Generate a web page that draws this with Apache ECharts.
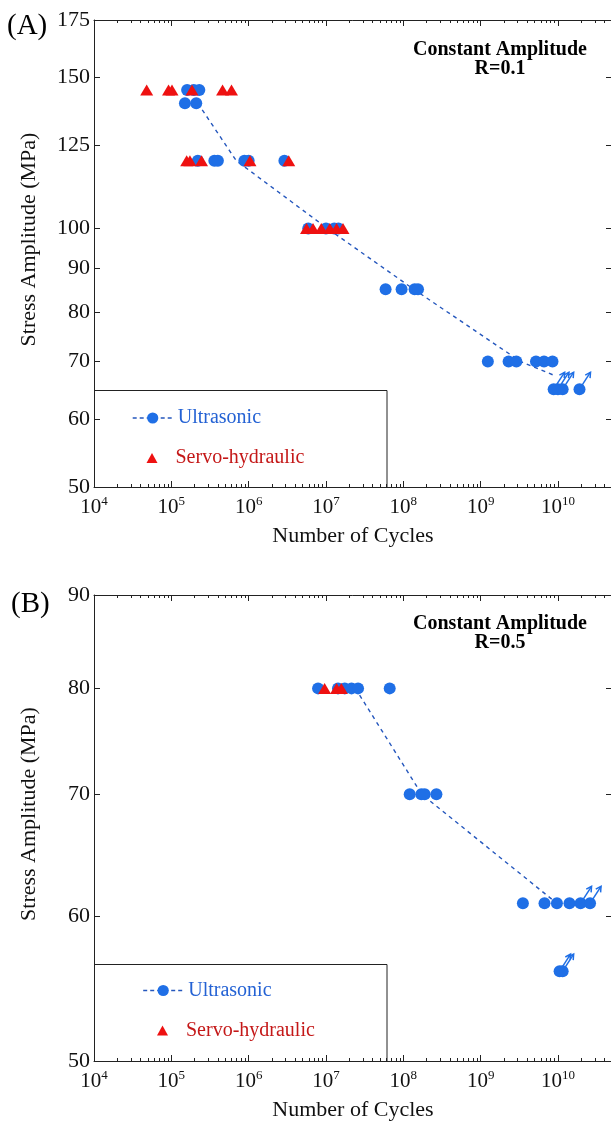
<!DOCTYPE html>
<html>
<head>
<meta charset="utf-8">
<script src="https://cdn.jsdelivr.net/npm/echarts@6/dist/echarts.min.js"></script>
<style>
  html, body { margin: 0; padding: 0; background: #ffffff; }
  #chart { width: 611px; height: 1123px; }
</style>
</head>
<body>
<div id="chart"></div>
<script>
// ---- S-N data: [cycles, stress amplitude (MPa)] ----
// Panel A: constant amplitude, R = 0.1
const ultrasonicA = [
  [1.6e5, 145], [1.95e5, 145], [2.3e5, 145],
  [1.5e5, 140], [2.1e5, 140],
  [2.2e5, 120], [3.6e5, 120], [4.0e5, 120], [8.8e5, 120], [1.0e6, 120], [2.9e6, 120],
  [5.9e6, 100], [1.0e7, 100], [1.28e7, 100], [1.45e7, 100],
  [5.9e7, 85], [9.5e7, 85], [1.4e8, 85], [1.55e8, 85],
  [1.24e9, 70], [2.3e9, 70], [2.9e9, 70], [5.2e9, 70], [6.6e9, 70], [8.5e9, 70]
];
const runoutsA = [[8.8e9, 65], [1.0e10, 65], [1.15e10, 65], [1.9e10, 65]];
const servoA = [
  [4.8e4, 145], [9.2e4, 145], [1.02e5, 145], [1.85e5, 145], [4.6e5, 145], [6.0e5, 145],
  [1.58e5, 120], [1.74e5, 120], [2.46e5, 120], [1.04e6, 120], [3.3e6, 120],
  [5.6e6, 100], [6.8e6, 100], [8.7e6, 100], [1.12e7, 100], [1.37e7, 100], [1.66e7, 100]
];
const trendA = [[2.2e5, 140], [6.9e5, 120], [1.05e7, 100], [1.36e8, 85], [3.3e9, 70], [9.5e9, 67.3]];

// Panel B: constant amplitude, R = 0.5
const ultrasonicB = [
  [7.9e6, 80], [1.43e7, 80], [1.75e7, 80], [2.14e7, 80], [2.6e7, 80], [6.67e7, 80],
  [1.21e8, 70], [1.71e8, 70], [1.89e8, 70], [2.68e8, 70],
  [3.52e9, 61], [6.7e9, 61], [9.7e9, 61], [1.41e10, 61]
];
const runoutsB = [[1.96e10, 61], [2.6e10, 61], [1.05e10, 56], [1.15e10, 56]];
const servoB = [[9.6e6, 80], [1.37e7, 80], [1.58e7, 80]];
const trendB = [[2.4e7, 80], [1.73e8, 70], [9.7e9, 61]];

// Axis tick values
const cycleDecades = [1e4, 1e5, 1e6, 1e7, 1e8, 1e9, 1e10];
const stressTicksA = [50, 60, 70, 80, 90, 100, 125, 150, 175];
const stressTicksB = [50, 60, 70, 80, 90];

// ---- styling ----
const FONT = '"Liberation Serif", "Times New Roman", serif';
const INK = '#222222';
const BLUE = '#1f6fe6';
const TREND_BLUE = '#2557bd';
const RED = '#ee1111';
const BLUE_TEXT = '#2462d4';
const RED_TEXT = '#c41818';

const cycleMinors = [];
for (let e = 4; e <= 10; e++) {
  for (let m = 2; m <= 9; m++) {
    const v = m * Math.pow(10, e);
    if (v <= 5e10) cycleMinors.push(v);
  }
}

function powerLabel(v) {
  return '{b|10}{s|' + Math.round(Math.log10(v)) + '}';
}

function cycleAxes(gridIndex) {
  const base = {
    type: 'log', logBase: 10, min: 1e4, max: 5e10, gridIndex: gridIndex,
    splitLine: { show: false }, nameMoveOverlap: false
  };
  const line = { show: true, lineStyle: { color: INK, width: 1 } };
  return [
    Object.assign({}, base, {
      position: 'bottom', axisLine: line,
      axisTick: { inside: true, length: 6, customValues: cycleDecades, lineStyle: { color: INK } },
      axisLabel: {
        customValues: cycleDecades, formatter: powerLabel, margin: 8,
        rich: {
          b: { fontFamily: FONT, fontSize: 21, color: '#111', lineHeight: 24 },
          s: { fontFamily: FONT, fontSize: 13, color: '#111', verticalAlign: 'top', lineHeight: 14 }
        }
      },
      name: 'Number of Cycles', nameLocation: 'middle', nameGap: 38,
      nameTextStyle: { fontFamily: FONT, fontSize: 22, color: '#111' }
    }),
    Object.assign({}, base, {
      position: 'bottom', axisLine: { show: false },
      axisTick: { inside: true, length: 3, customValues: cycleMinors, lineStyle: { color: INK } },
      axisLabel: { show: false }
    }),
    Object.assign({}, base, {
      position: 'top', axisLine: line,
      axisTick: { inside: true, length: 6, customValues: cycleDecades, lineStyle: { color: INK } },
      axisLabel: { show: false }
    }),
    Object.assign({}, base, {
      position: 'top', axisLine: { show: false },
      axisTick: { inside: true, length: 3, customValues: cycleMinors, lineStyle: { color: INK } },
      axisLabel: { show: false }
    })
  ];
}

function stressAxes(gridIndex, min, max, ticks) {
  const base = {
    type: 'log', logBase: 10, min: min, max: max, gridIndex: gridIndex,
    splitLine: { show: false }, nameMoveOverlap: false,
    axisLine: { show: true, lineStyle: { color: INK, width: 1 } }
  };
  return [
    Object.assign({}, base, {
      position: 'left',
      axisTick: { inside: true, length: 6, customValues: ticks, lineStyle: { color: INK } },
      axisLabel: { customValues: ticks, margin: 4, fontFamily: FONT, fontSize: 22, color: '#111' },
      name: 'Stress Amplitude (MPa)', nameLocation: 'middle', nameGap: 54,
      nameTextStyle: { fontFamily: FONT, fontSize: 22, color: '#111', padding: [0, 0, 0, 28] }
    }),
    Object.assign({}, base, {
      position: 'right',
      axisTick: { inside: true, length: 6, customValues: ticks, lineStyle: { color: INK } },
      axisLabel: { show: false }
    })
  ];
}

// Run-out arrows: drawn from each run-out specimen, pointing up and to the right
function runoutArrows(data, xi, yi) {
  return {
    type: 'custom', xAxisIndex: xi, yAxisIndex: yi, data: data, clip: false, z: 6, silent: true,
    renderItem: function (params, api) {
      const p = api.coord([api.value(0), api.value(1)]);
      const dx = 11, dy = -17, head = 6;
      const tip = [p[0] + dx, p[1] + dy];
      const ang = Math.atan2(dy, dx);
      const h1 = [tip[0] - head * Math.cos(ang - 0.5), tip[1] - head * Math.sin(ang - 0.5)];
      const h2 = [tip[0] - head * Math.cos(ang + 0.5), tip[1] - head * Math.sin(ang + 0.5)];
      return {
        type: 'group',
        children: [
          { type: 'line', shape: { x1: p[0], y1: p[1], x2: tip[0], y2: tip[1] },
            style: { stroke: BLUE, lineWidth: 1.5 } },
          { type: 'polyline', shape: { points: [h1, tip, h2] },
            style: { stroke: BLUE, lineWidth: 1.5, fill: null } }
        ]
      };
    }
  };
}

function panelSeries(xi, yi, trend, ultra, runouts, servo) {
  return [
    { name: 'Ultrasonic', type: 'line', xAxisIndex: xi, yAxisIndex: yi, data: trend,
      symbol: 'none', z: 2, silent: true,
      itemStyle: { color: BLUE },
      lineStyle: { color: TREND_BLUE, width: 1.4, type: [4, 4] } },
    { name: 'Ultrasonic', type: 'scatter', xAxisIndex: xi, yAxisIndex: yi,
      data: ultra.concat(runouts), symbol: 'circle', symbolSize: 12, z: 3, silent: true,
      itemStyle: { color: BLUE, opacity: 1 } },
    { name: 'Servo-hydraulic', type: 'scatter', xAxisIndex: xi, yAxisIndex: yi,
      data: servo, symbol: 'triangle', symbolSize: [13, 11], z: 4, silent: true,
      itemStyle: { color: RED, opacity: 1 } },
    runoutArrows(runouts, xi, yi)
  ];
}

// Line-and-circle key entry
function ultrasonicKey(left, top) {
  return {
    data: [{ name: 'Ultrasonic', textStyle: { color: BLUE_TEXT } }],
    left: left, top: top, orient: 'vertical', padding: 0,
    itemWidth: 40, itemHeight: 14, itemGap: 0, selectedMode: false,
    textStyle: { fontFamily: FONT, fontSize: 20 },
    itemStyle: { color: BLUE },
    lineStyle: { color: TREND_BLUE, width: 1.4, type: [4, 3] }
  };
}

// Triangle key entry; the text is pushed right to line up with the entry above
function servoKey(left, top) {
  return {
    data: [{ name: 'Servo-hydraulic', icon: 'triangle', textStyle: { color: RED_TEXT } }],
    left: left, top: top, orient: 'vertical', padding: 0,
    itemWidth: 11, itemHeight: 10, itemGap: 0, selectedMode: false,
    textStyle: { fontFamily: FONT, fontSize: 20, padding: [0, 0, 0, 13] },
    itemStyle: { color: RED }
  };
}

function panelText(x, y, text, font) {
  return { type: 'text', x: x, y: y, z: 10,
    style: { text: text, font: font, fill: '#000', align: 'left', verticalAlign: 'middle' } };
}

function conditionText(cx, top, text) {
  return { type: 'text', x: cx, y: top, z: 10,
    style: { text: text, font: 'bold 20px ' + FONT, fill: '#000', align: 'center',
      verticalAlign: 'top', lineHeight: 19 } };
}

const chart = echarts.init(document.getElementById('chart'), null, { renderer: 'canvas' });

chart.setOption({
  animation: false,
  backgroundColor: '#ffffff',
  grid: [
    { left: 94, top: 20, width: 518, height: 467, outerBoundsMode: 'none', containLabel: false },
    { left: 94, top: 595, width: 518, height: 466, outerBoundsMode: 'none', containLabel: false }
  ],
  xAxis: cycleAxes(0).concat(cycleAxes(1)),
  yAxis: stressAxes(0, 50, 175, stressTicksA).concat(stressAxes(1, 50, 90, stressTicksB)),
  legend: [
    ultrasonicKey(132, 408),
    servoKey(146.5, 448),
    ultrasonicKey(142.5, 980.5),
    servoKey(157, 1020.5)
  ],
  graphic: [
    { type: 'rect', z: 1, shape: { x: 94.5, y: 390.5, width: 292.5, height: 97 },
      style: { fill: null, stroke: INK, lineWidth: 1 } },
    { type: 'rect', z: 1, shape: { x: 94.5, y: 964.5, width: 292.5, height: 97 },
      style: { fill: null, stroke: INK, lineWidth: 1 } },
    panelText(7, 26, '(A)', '29px ' + FONT),
    panelText(11, 604, '(B)', '29px ' + FONT),
    conditionText(500, 40, 'Constant Amplitude\nR=0.1'),
    conditionText(500, 614, 'Constant Amplitude\nR=0.5')
  ],
  series: []
    .concat(panelSeries(0, 0, trendA, ultrasonicA, runoutsA, servoA))
    .concat(panelSeries(4, 2, trendB, ultrasonicB, runoutsB, servoB))
});
</script>
</body>
</html>
